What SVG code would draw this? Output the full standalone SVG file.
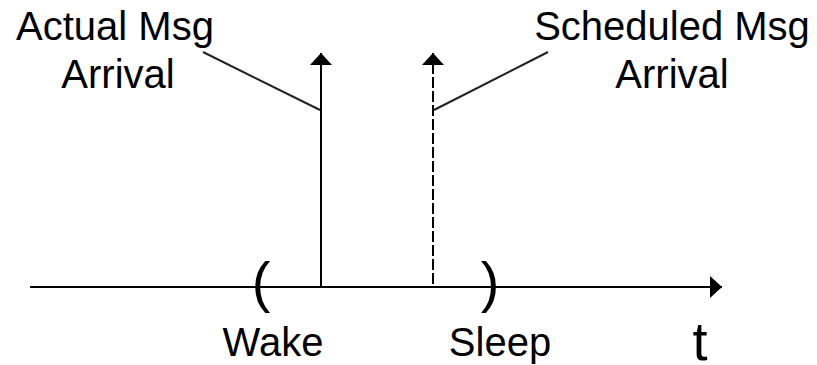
<svg xmlns="http://www.w3.org/2000/svg" width="817" height="365" viewBox="0 0 817 365">
<style>
.t{font-family:"Liberation Sans",Arial,sans-serif;font-size:40px;fill:#000}
.ln{stroke:#000;stroke-width:2;fill:none}
.ld{stroke:#222;stroke-width:2;fill:none}
</style>
<defs>
<marker id="av" viewBox="0 0 12 22" refX="12" refY="11" markerWidth="12" markerHeight="22" markerUnits="userSpaceOnUse" orient="auto"><path d="M0,0 L12,11 L0,22 Z" fill="#000"/></marker>
</defs>
<rect width="817" height="365" fill="#fff"/>
<g id="connectors">
<line id="axis" class="ln" x1="30" y1="287" x2="722" y2="287" marker-end="url(#av)"/>
<line id="actual-arrow" class="ln" x1="321" y1="287" x2="321" y2="53" marker-end="url(#av)"/>
<line id="scheduled-arrow" class="ln" x1="433" y1="284" x2="433" y2="65" stroke-dasharray="11,3"/>
<line class="ln" x1="433" y1="66" x2="433" y2="53" marker-end="url(#av)"/>
<line id="actual-leader" class="ld" x1="203" y1="52" x2="320" y2="110"/>
<line id="scheduled-leader" class="ld" x1="434" y1="110" x2="548" y2="52"/>
</g>
<g id="actual-label">
<text class="t" x="115" y="40" text-anchor="middle">Actual Msg</text>
<text class="t" x="118" y="88" text-anchor="middle">Arrival</text>
</g>
<g id="scheduled-label">
<text class="t" x="672" y="40" text-anchor="middle">Scheduled Msg</text>
<text class="t" x="672" y="88" text-anchor="middle">Arrival</text>
</g>
<g id="wake">
<text class="t" x="261" y="301" text-anchor="middle" style="font-size:56px">(</text>
<text class="t" x="273" y="356" text-anchor="middle">Wake</text>
</g>
<g id="sleep">
<text class="t" x="490" y="301" text-anchor="middle" style="font-size:56px">)</text>
<text class="t" x="500" y="356" text-anchor="middle">Sleep</text>
</g>
<g id="t-label">
<text class="t" x="700" y="360" text-anchor="middle" style="font-size:54px">t</text>
</g>
</svg>
